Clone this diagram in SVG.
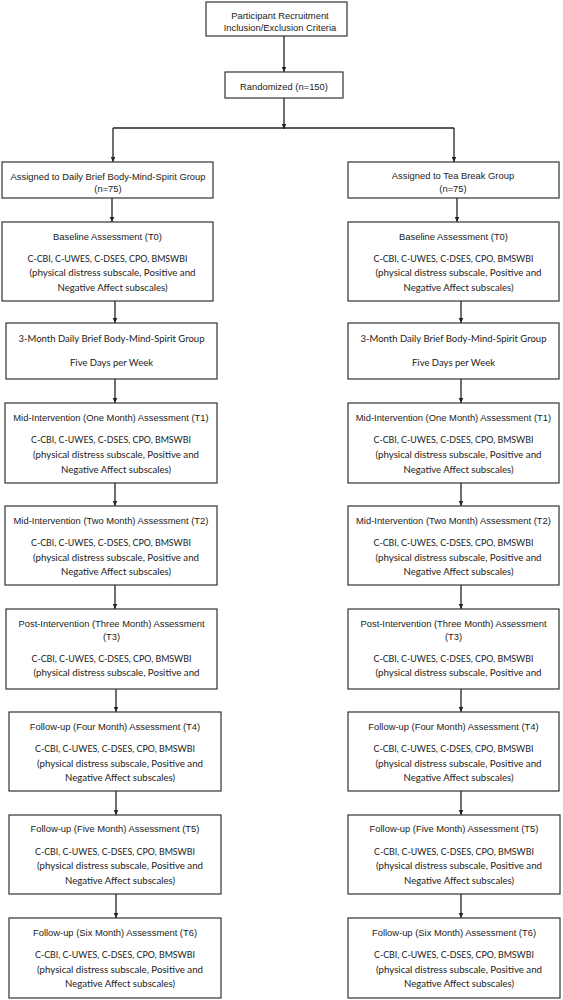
<svg xmlns="http://www.w3.org/2000/svg" width="563" height="1000" viewBox="0 0 563 1000">
<style>
.box{fill:#fff;stroke:#333;stroke-width:1.2}
.a{font-family:"Liberation Sans",Arial,sans-serif;font-size:9.4px;fill:#222;text-anchor:middle}
.c{font-family:Lato,"Open Sans",sans-serif;font-size:9.8px;fill:#222;text-anchor:middle}
.ln{stroke:#222;stroke-width:1.3;fill:none}
.lna{stroke:#222;stroke-width:1.3;fill:none;marker-end:url(#ah)}
</style>
<defs>
<marker id="ah" markerUnits="userSpaceOnUse" markerWidth="6" markerHeight="6" refX="5.5" refY="3" orient="auto">
<path d="M0,0.5 L5.5,3 L0,5.5 z" fill="#222"/>
</marker>
</defs>
<rect width="563" height="1000" fill="#fff"/>
<g id="connectors">
<line class="lna" x1="284" y1="36" x2="284" y2="72"/>
<line class="lna" x1="284" y1="98" x2="284" y2="129"/>
<line class="ln" x1="113" y1="128" x2="454" y2="128"/>
<line class="lna" x1="113" y1="128" x2="113" y2="162"/>
<line class="lna" x1="454" y1="128" x2="454" y2="162"/>
<line class="lna" x1="112" y1="198" x2="112" y2="222"/>
<line class="lna" x1="115" y1="301" x2="115" y2="323"/>
<line class="lna" x1="115" y1="379" x2="115" y2="403"/>
<line class="lna" x1="115" y1="483" x2="115" y2="506"/>
<line class="lna" x1="115" y1="585" x2="115" y2="609"/>
<line class="lna" x1="116" y1="689" x2="116" y2="712"/>
<line class="lna" x1="116" y1="791" x2="116" y2="815"/>
<line class="lna" x1="116" y1="894" x2="116" y2="918"/>
<line class="lna" x1="457" y1="198" x2="457" y2="222"/>
<line class="lna" x1="461" y1="301" x2="461" y2="323"/>
<line class="lna" x1="461" y1="379" x2="461" y2="403"/>
<line class="lna" x1="461" y1="483" x2="461" y2="506"/>
<line class="lna" x1="461" y1="585" x2="461" y2="609"/>
<line class="lna" x1="461" y1="689" x2="461" y2="712"/>
<line class="lna" x1="461" y1="791" x2="461" y2="815"/>
<line class="lna" x1="461" y1="894" x2="461" y2="918"/>
</g>
<g id="recruit">
<rect class="box" x="206" y="2" width="141" height="34"/>
<text class="a" x="280" y="18.5">Participant Recruitment</text>
<text class="a" x="280" y="30.5">Inclusion/Exclusion Criteria</text>
</g>
<g id="randomized">
<rect class="box" x="225" y="72" width="118" height="26"/>
<text class="a" x="284" y="89.5">Randomized (n=150)</text>
</g>
<g id="groupL">
<rect class="box" x="2" y="162" width="211" height="36"/>
<text class="a" x="108" y="179.5">Assigned to Daily Brief Body-Mind-Spirit Group</text>
<text class="a" x="108" y="192">(n=75)</text>
</g>
<g id="groupR">
<rect class="box" x="348" y="162" width="211" height="36"/>
<text class="a" x="453" y="178.5">Assigned to Tea Break Group</text>
<text class="a" x="453" y="191.5">(n=75)</text>
</g>
<g id="baseL">
<rect class="box" x="2" y="222" width="211" height="79"/>
<text class="a" x="107.5" y="239.5">Baseline Assessment (T0)</text>
<text class="c" x="107.5" y="261.5" textLength="160" lengthAdjust="spacingAndGlyphs">C-CBI, C-UWES, C-DSES, CPO, BMSWBI</text>
<text class="c" x="112.5" y="276" textLength="166" lengthAdjust="spacingAndGlyphs">(physical distress subscale, Positive and</text>
<text class="c" x="112.5" y="291" textLength="110" lengthAdjust="spacingAndGlyphs">Negative Affect subscales)</text>
</g>
<g id="baseR">
<rect class="box" x="348" y="222" width="211" height="79"/>
<text class="a" x="453.5" y="239.5">Baseline Assessment (T0)</text>
<text class="c" x="453.5" y="261.5" textLength="160" lengthAdjust="spacingAndGlyphs">C-CBI, C-UWES, C-DSES, CPO, BMSWBI</text>
<text class="c" x="458.5" y="276" textLength="166" lengthAdjust="spacingAndGlyphs">(physical distress subscale, Positive and</text>
<text class="c" x="458.5" y="291" textLength="110" lengthAdjust="spacingAndGlyphs">Negative Affect subscales)</text>
</g>
<g id="interL">
<rect class="box" x="6" y="323" width="211" height="56"/>
<text class="c" x="111.5" y="341.5" textLength="186" lengthAdjust="spacingAndGlyphs">3-Month Daily Brief Body-Mind-Spirit Group</text>
<text class="c" x="111.5" y="365.5" textLength="83" lengthAdjust="spacingAndGlyphs">Five Days per Week</text>
</g>
<g id="interR">
<rect class="box" x="348" y="323" width="211" height="56"/>
<text class="c" x="453.5" y="341.5" textLength="186" lengthAdjust="spacingAndGlyphs">3-Month Daily Brief Body-Mind-Spirit Group</text>
<text class="c" x="453.5" y="365.5" textLength="83" lengthAdjust="spacingAndGlyphs">Five Days per Week</text>
</g>
<g id="t1L">
<rect class="box" x="5" y="403" width="212" height="80"/>
<text class="a" x="111" y="420.5">Mid-Intervention (One Month) Assessment (T1)</text>
<text class="c" x="111" y="442.5" textLength="160" lengthAdjust="spacingAndGlyphs">C-CBI, C-UWES, C-DSES, CPO, BMSWBI</text>
<text class="c" x="116" y="457.5" textLength="166" lengthAdjust="spacingAndGlyphs">(physical distress subscale, Positive and</text>
<text class="c" x="116" y="472.5" textLength="110" lengthAdjust="spacingAndGlyphs">Negative Affect subscales)</text>
</g>
<g id="t1R">
<rect class="box" x="348" y="403" width="211" height="80"/>
<text class="a" x="453.5" y="420.5">Mid-Intervention (One Month) Assessment (T1)</text>
<text class="c" x="453.5" y="442.5" textLength="160" lengthAdjust="spacingAndGlyphs">C-CBI, C-UWES, C-DSES, CPO, BMSWBI</text>
<text class="c" x="458.5" y="457.5" textLength="166" lengthAdjust="spacingAndGlyphs">(physical distress subscale, Positive and</text>
<text class="c" x="458.5" y="472.5" textLength="110" lengthAdjust="spacingAndGlyphs">Negative Affect subscales)</text>
</g>
<g id="t2L">
<rect class="box" x="5" y="506" width="212" height="79"/>
<text class="a" x="111" y="523.5">Mid-Intervention (Two Month) Assessment (T2)</text>
<text class="c" x="111" y="545.5" textLength="160" lengthAdjust="spacingAndGlyphs">C-CBI, C-UWES, C-DSES, CPO, BMSWBI</text>
<text class="c" x="116" y="560.5" textLength="166" lengthAdjust="spacingAndGlyphs">(physical distress subscale, Positive and</text>
<text class="c" x="116" y="575" textLength="110" lengthAdjust="spacingAndGlyphs">Negative Affect subscales)</text>
</g>
<g id="t2R">
<rect class="box" x="348" y="506" width="211" height="79"/>
<text class="a" x="453.5" y="523.5">Mid-Intervention (Two Month) Assessment (T2)</text>
<text class="c" x="453.5" y="545.5" textLength="160" lengthAdjust="spacingAndGlyphs">C-CBI, C-UWES, C-DSES, CPO, BMSWBI</text>
<text class="c" x="458.5" y="560.5" textLength="166" lengthAdjust="spacingAndGlyphs">(physical distress subscale, Positive and</text>
<text class="c" x="458.5" y="575" textLength="110" lengthAdjust="spacingAndGlyphs">Negative Affect subscales)</text>
</g>
<g id="t3L">
<rect class="box" x="6" y="609" width="211" height="80"/>
<text class="a" x="111.5" y="626.5">Post-Intervention (Three Month) Assessment</text>
<text class="a" x="111.5" y="639.5">(T3)</text>
<text class="c" x="111.5" y="661.5" textLength="160" lengthAdjust="spacingAndGlyphs">C-CBI, C-UWES, C-DSES, CPO, BMSWBI</text>
<text class="c" x="116.5" y="675.5" textLength="166" lengthAdjust="spacingAndGlyphs">(physical distress subscale, Positive and</text>
</g>
<g id="t3R">
<rect class="box" x="348" y="609" width="211" height="80"/>
<text class="a" x="453.5" y="626.5">Post-Intervention (Three Month) Assessment</text>
<text class="a" x="453.5" y="639.5">(T3)</text>
<text class="c" x="453.5" y="661.5" textLength="160" lengthAdjust="spacingAndGlyphs">C-CBI, C-UWES, C-DSES, CPO, BMSWBI</text>
<text class="c" x="458.5" y="675.5" textLength="166" lengthAdjust="spacingAndGlyphs">(physical distress subscale, Positive and</text>
</g>
<g id="t4L">
<rect class="box" x="9" y="712" width="212" height="79"/>
<text class="a" x="115" y="729.5">Follow-up (Four Month) Assessment (T4)</text>
<text class="c" x="115" y="751.5" textLength="160" lengthAdjust="spacingAndGlyphs">C-CBI, C-UWES, C-DSES, CPO, BMSWBI</text>
<text class="c" x="120" y="766.5" textLength="166" lengthAdjust="spacingAndGlyphs">(physical distress subscale, Positive and</text>
<text class="c" x="120" y="781" textLength="110" lengthAdjust="spacingAndGlyphs">Negative Affect subscales)</text>
</g>
<g id="t4R">
<rect class="box" x="348" y="712" width="211" height="79"/>
<text class="a" x="453.5" y="729.5">Follow-up (Four Month) Assessment (T4)</text>
<text class="c" x="453.5" y="751.5" textLength="160" lengthAdjust="spacingAndGlyphs">C-CBI, C-UWES, C-DSES, CPO, BMSWBI</text>
<text class="c" x="458.5" y="766.5" textLength="166" lengthAdjust="spacingAndGlyphs">(physical distress subscale, Positive and</text>
<text class="c" x="458.5" y="781" textLength="110" lengthAdjust="spacingAndGlyphs">Negative Affect subscales)</text>
</g>
<g id="t5L">
<rect class="box" x="9" y="815" width="212" height="79"/>
<text class="a" x="115" y="831.5">Follow-up (Five Month) Assessment (T5)</text>
<text class="c" x="115" y="854.5" textLength="160" lengthAdjust="spacingAndGlyphs">C-CBI, C-UWES, C-DSES, CPO, BMSWBI</text>
<text class="c" x="120" y="869" textLength="166" lengthAdjust="spacingAndGlyphs">(physical distress subscale, Positive and</text>
<text class="c" x="120" y="884" textLength="110" lengthAdjust="spacingAndGlyphs">Negative Affect subscales)</text>
</g>
<g id="t5R">
<rect class="box" x="348" y="815" width="212" height="79"/>
<text class="a" x="454" y="831.5">Follow-up (Five Month) Assessment (T5)</text>
<text class="c" x="454" y="854.5" textLength="160" lengthAdjust="spacingAndGlyphs">C-CBI, C-UWES, C-DSES, CPO, BMSWBI</text>
<text class="c" x="459" y="869" textLength="166" lengthAdjust="spacingAndGlyphs">(physical distress subscale, Positive and</text>
<text class="c" x="459" y="884" textLength="110" lengthAdjust="spacingAndGlyphs">Negative Affect subscales)</text>
</g>
<g id="t6L">
<rect class="box" x="9" y="918" width="212" height="80"/>
<text class="a" x="115" y="935.5">Follow-up (Six Month) Assessment (T6)</text>
<text class="c" x="115" y="957.5" textLength="160" lengthAdjust="spacingAndGlyphs">C-CBI, C-UWES, C-DSES, CPO, BMSWBI</text>
<text class="c" x="120" y="972.5" textLength="166" lengthAdjust="spacingAndGlyphs">(physical distress subscale, Positive and</text>
<text class="c" x="120" y="987" textLength="110" lengthAdjust="spacingAndGlyphs">Negative Affect subscales)</text>
</g>
<g id="t6R">
<rect class="box" x="348" y="918" width="212" height="80"/>
<text class="a" x="454" y="935.5">Follow-up (Six Month) Assessment (T6)</text>
<text class="c" x="454" y="957.5" textLength="160" lengthAdjust="spacingAndGlyphs">C-CBI, C-UWES, C-DSES, CPO, BMSWBI</text>
<text class="c" x="459" y="972.5" textLength="166" lengthAdjust="spacingAndGlyphs">(physical distress subscale, Positive and</text>
<text class="c" x="459" y="987" textLength="110" lengthAdjust="spacingAndGlyphs">Negative Affect subscales)</text>
</g>
</svg>
